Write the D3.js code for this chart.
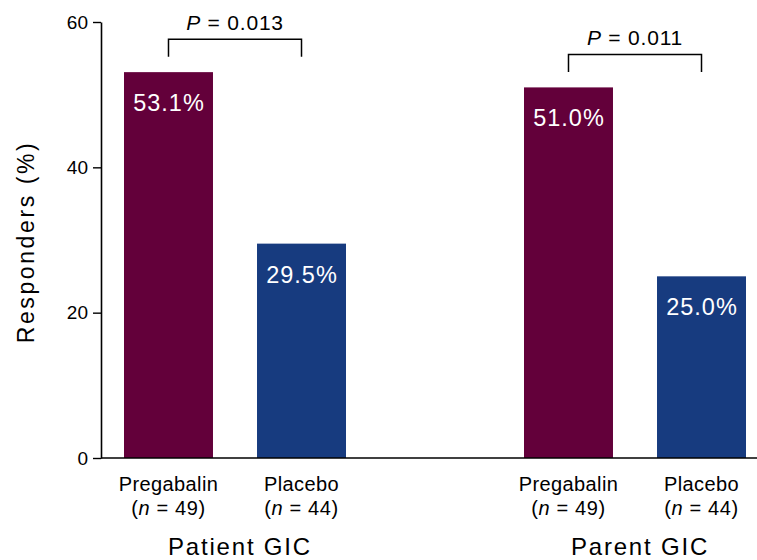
<!DOCTYPE html>
<html>
<head>
<meta charset="utf-8">
<script src="https://cdn.jsdelivr.net/npm/d3@7/dist/d3.min.js"></script>
<style>
  html, body { margin: 0; padding: 0; background: #fff; }
  svg { display: block; font-family: "Liberation Sans", Arial, Helvetica, sans-serif; }
</style>
</head>
<body>
<svg id="chart" width="757" height="560"></svg>
<script>
// Responder rates by global impression of change (GIC) rating source
const groups = ["Patient GIC", "Parent GIC"];
const treatments = ["Pregabalin", "Placebo"];
const sampleSizes = [49, 44];
const patientValues = [53.1, 29.5];
const parentValues = [51.0, 25.0];
const pValues = ["0.013", "0.011"];
const yTicks = [0, 20, 40, 60];

const colors = { Pregabalin: "#63003a", Placebo: "#173b7f" };

const W = 757, H = 560;
const margin = { left: 101, top: 22, bottom: 102 };

const svg = d3.select("#chart");

const y = d3.scaleLinear().domain([0, 60]).range([H - margin.bottom, margin.top]);

const xGroup = d3.scaleBand()
  .domain(groups)
  .range([margin.left, 769])
  .paddingInner(0.445)
  .paddingOuter(0.0575);

const xInner = d3.scaleBand()
  .domain(treatments)
  .range([0, xGroup.bandwidth()])
  .paddingInner(0.331)
  .paddingOuter(0);

const data = [];
groups.forEach((g, gi) => {
  const vals = gi === 0 ? patientValues : parentValues;
  treatments.forEach((t, ti) => {
    data.push({ group: g, treatment: t, value: vals[ti], n: sampleSizes[ti] });
  });
});

const barCenter = d => xGroup(d.group) + xInner(d.treatment) + xInner.bandwidth() / 2;

// Bars
svg.append("g").selectAll("rect")
  .data(data)
  .join("rect")
  .attr("x", d => xGroup(d.group) + xInner(d.treatment))
  .attr("y", d => y(d.value))
  .attr("width", xInner.bandwidth())
  .attr("height", d => y(0) - y(d.value))
  .attr("fill", d => colors[d.treatment]);

// Value labels inside bars
svg.append("g").selectAll("text")
  .data(data)
  .join("text")
  .attr("x", d => barCenter(d) + 0.5)
  .attr("y", d => y(d.value) + 39)
  .attr("text-anchor", "middle")
  .attr("fill", "#fff")
  .style("font-size", "23.5px")
  .style("letter-spacing", "1px")
  .text(d => d.value.toFixed(1) + "%");

// Y axis
const yAxis = d3.axisLeft(y).tickValues(yTicks).tickSize(8).tickSizeOuter(0).tickPadding(5);
const gy = svg.append("g").attr("transform", `translate(${margin.left},0)`).call(yAxis);
gy.select(".domain").attr("stroke", "#000").attr("stroke-width", 1.6);
gy.selectAll(".tick line").attr("stroke", "#000").attr("stroke-width", 1.4);
gy.selectAll(".tick text").attr("fill", "#000").style("font-size", "19px").style("font-family", "inherit");

// X baseline
svg.append("line")
  .attr("x1", margin.left).attr("x2", W)
  .attr("y1", y(0)).attr("y2", y(0))
  .attr("stroke", "#000").attr("stroke-width", 1.6);

// Y axis title
svg.append("text")
  .attr("transform", `translate(33.5,${(y(0) + y(60)) / 2 + 2}) rotate(-90)`)
  .attr("text-anchor", "middle")
  .style("font-size", "23px")
  .style("letter-spacing", "2.6px")
  .text("Responders (%)");

// Treatment labels with sample sizes
const catLabels = svg.append("g").selectAll("g")
  .data(data)
  .join("g")
  .attr("transform", d => `translate(${barCenter(d)},0)`);

catLabels.append("text")
  .attr("y", y(0) + 33)
  .attr("text-anchor", "middle")
  .style("font-size", "20px")
  .style("letter-spacing", "0.4px")
  .text(d => d.treatment);

const nText = catLabels.append("text")
  .attr("y", y(0) + 57)
  .attr("text-anchor", "middle")
  .style("font-size", "20px")
  .style("letter-spacing", "0.6px");
nText.append("tspan").text("(");
nText.append("tspan").style("font-style", "italic").text("n");
nText.append("tspan").text(d => " = " + d.n + ")");

// Group titles
svg.append("g").selectAll("text")
  .data(groups)
  .join("text")
  .attr("x", g => xGroup(g) + xGroup.bandwidth() / 2 + 5)
  .attr("y", y(0) + 97)
  .attr("text-anchor", "middle")
  .style("font-size", "24px")
  .style("letter-spacing", "1.8px")
  .text(g => g);

// Significance brackets between treatment bars
groups.forEach((g, gi) => {
  const vals = gi === 0 ? patientValues : parentValues;
  const top = y(d3.max(vals));
  const x1 = xGroup(g) + xInner("Pregabalin") + xInner.bandwidth() / 2;
  const x2 = xGroup(g) + xInner("Placebo") + xInner.bandwidth() / 2;
  const yb = top - 15.5, yt = top - 33;
  svg.append("path")
    .attr("d", `M${x1},${yb}V${yt}H${x2}V${yb}`)
    .attr("fill", "none")
    .attr("stroke", "#000")
    .attr("stroke-width", 1.5);
  const t = svg.append("text")
    .attr("x", (x1 + x2) / 2)
    .attr("y", yt - 9.5)
    .attr("text-anchor", "middle")
    .style("font-size", "21px")
    .style("letter-spacing", "0.8px");
  t.append("tspan").style("font-style", "italic").text("P");
  t.append("tspan").text(" = " + pValues[gi]);
});
</script>
</body>
</html>
